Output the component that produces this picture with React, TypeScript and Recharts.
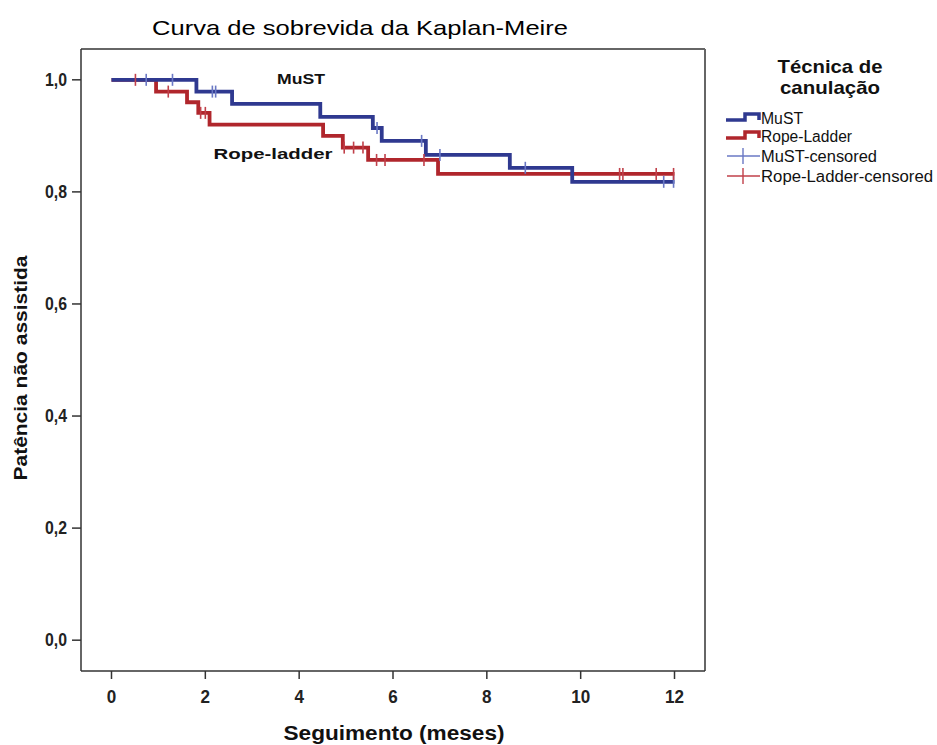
import {
  ComposedChart,
  Line,
  Scatter,
  XAxis,
  YAxis,
  ReferenceLine,
} from 'recharts';

// Kaplan-Meier steps (months, survival)
const mustSteps = [
  { t: 0, s: 1.0 },
  { t: 1.81, s: 0.979 },
  { t: 2.57, s: 0.957 },
  { t: 4.45, s: 0.934 },
  { t: 5.57, s: 0.914 },
  { t: 5.76, s: 0.891 },
  { t: 6.7, s: 0.866 },
  { t: 8.49, s: 0.843 },
  { t: 9.82, s: 0.818 },
  { t: 12.0, s: 0.818 },
];

const ropeSteps = [
  { t: 0, s: 1.0 },
  { t: 0.95, s: 0.979 },
  { t: 1.61, s: 0.96 },
  { t: 1.85, s: 0.941 },
  { t: 2.09, s: 0.92 },
  { t: 4.51, s: 0.9 },
  { t: 4.93, s: 0.879 },
  { t: 5.47, s: 0.857 },
  { t: 6.96, s: 0.832 },
  { t: 12.0, s: 0.832 },
];

const mustCensored = [
  { t: 0.74, s: 1.0 },
  { t: 1.3, s: 1.0 },
  { t: 2.15, s: 0.979 },
  { t: 2.22, s: 0.979 },
  { t: 5.66, s: 0.914 },
  { t: 6.61, s: 0.891 },
  { t: 7.0, s: 0.866 },
  { t: 8.82, s: 0.843 },
  { t: 11.77, s: 0.818 },
  { t: 11.98, s: 0.818 },
];

const ropeCensored = [
  { t: 0.51, s: 1.0 },
  { t: 1.21, s: 0.979 },
  { t: 1.9, s: 0.941 },
  { t: 2.0, s: 0.941 },
  { t: 4.96, s: 0.879 },
  { t: 5.16, s: 0.879 },
  { t: 5.36, s: 0.879 },
  { t: 5.65, s: 0.857 },
  { t: 5.83, s: 0.857 },
  { t: 6.66, s: 0.857 },
  { t: 10.83, s: 0.832 },
  { t: 10.9, s: 0.832 },
  { t: 11.61, s: 0.832 },
  { t: 11.98, s: 0.832 },
];

const xTicks = [0, 2, 4, 6, 8, 10, 12];
const yTicks = [0, 0.2, 0.4, 0.6, 0.8, 1.0];

const BLUE = '#2f3990';
const RED = '#b0262c';
const BLUE_C = '#6a78c4';
const RED_C = '#c0404a';
const FONT = 'Liberation Sans, Arial, sans-serif';

// condensed bold tick labels, squeezed with textLength
const XTick = ({ x, y, payload }: any) => {
  const label = String(payload.value);
  return (
    <text
      x={x}
      y={y + 22}
      textAnchor="middle"
      fontFamily={FONT}
      fontWeight="bold"
      fontSize={18}
      textLength={label.length * 9.5}
      lengthAdjust="spacingAndGlyphs"
      fill="#222"
    >
      {label}
    </text>
  );
};

const YTick = ({ x, y, payload }: any) => (
  <text
    x={x - 3}
    y={y + 6}
    textAnchor="end"
    fontFamily={FONT}
    fontWeight="bold"
    fontSize={18}
    textLength={22}
    lengthAdjust="spacingAndGlyphs"
    fill="#222"
  >
    {payload.value.toFixed(1).replace('.', ',')}
  </text>
);

const censorMark = (color: string) => (props: any) => (
  <line x1={props.cx} x2={props.cx} y1={props.cy - 6} y2={props.cy + 6} stroke={color} strokeWidth={1.6} />
);

function LegendBox() {
  const rows = [
    { label: 'MuST', y: 121, kind: 'step', color: BLUE, w: 42 },
    { label: 'Rope-Ladder', y: 139, kind: 'step', color: RED, w: 91 },
    { label: 'MuST-censored', y: 159, kind: 'cross', color: BLUE_C, w: 116 },
    { label: 'Rope-Ladder-censored', y: 179, kind: 'cross', color: RED_C, w: 172 },
  ];
  return (
    <g>
      <text x={830} y={73} textAnchor="middle" fontFamily={FONT} fontWeight="bold" fontSize={19} textLength={105} lengthAdjust="spacingAndGlyphs" fill="#111">
        Técnica de
      </text>
      <text x={830} y={94} textAnchor="middle" fontFamily={FONT} fontWeight="bold" fontSize={19} textLength={100} lengthAdjust="spacingAndGlyphs" fill="#111">
        canulação
      </text>
      {rows.map((r) => (
        <g key={r.label}>
          {r.kind === 'step' ? (
            <path
              d={`M726,${r.y - 1} H745 V${r.y - 7} H759 V${r.y - 1}`}
              fill="none"
              stroke={r.color}
              strokeWidth={3.5}
            />
          ) : (
            <g>
              <line x1={727} x2={760} y1={r.y - 3} y2={r.y - 3} stroke={r.color} strokeWidth={1.4} />
              <line x1={743} x2={743} y1={r.y - 11} y2={r.y + 5} stroke={r.color} strokeWidth={1.4} />
            </g>
          )}
          <text x={761} y={r.y + 3} fontFamily={FONT} fontSize={16} textLength={r.w} lengthAdjust="spacingAndGlyphs" fill="#111">
            {r.label}
          </text>
        </g>
      ))}
    </g>
  );
}

export default function App() {
  return (
    <div style={{ position: 'absolute', left: 0, top: 0, width: 937, height: 745, background: '#fff' }}>
      <ComposedChart width={937} height={745} margin={{ top: 49, right: 232, bottom: 0, left: 0 }}>
        <XAxis
          type="number"
          dataKey="t"
          domain={[-0.65, 12.65]}
          ticks={xTicks}
          allowDataOverflow
          height={74}
          tickSize={8}
          tick={<XTick />}
          stroke="#333"
          strokeWidth={1.5}
        />
        <YAxis
          type="number"
          dataKey="s"
          domain={[-0.055, 1.055]}
          ticks={yTicks}
          allowDataOverflow
          width={81}
          tickSize={9}
          tick={<YTick />}
          stroke="#333"
          strokeWidth={1.5}
        />
        <ReferenceLine y={1.055} stroke="#666" strokeWidth={2} />
        <ReferenceLine x={12.65} stroke="#666" strokeWidth={2} />
        <Line
          data={ropeSteps}
          dataKey="s"
          type="stepAfter"
          stroke={RED}
          strokeWidth={3.8}
          dot={false}
          isAnimationActive={false}
        />
        <Line
          data={mustSteps}
          dataKey="s"
          type="stepAfter"
          stroke={BLUE}
          strokeWidth={3.8}
          dot={false}
          isAnimationActive={false}
        />
        <Scatter data={mustCensored} dataKey="s" shape={censorMark(BLUE_C)} isAnimationActive={false} />
        <Scatter data={ropeCensored} dataKey="s" shape={censorMark(RED_C)} isAnimationActive={false} />
      </ComposedChart>
      <svg
        width={937}
        height={745}
        style={{ position: 'absolute', left: 0, top: 0, pointerEvents: 'none' }}
      >
        <text x={360} y={35} textAnchor="middle" fontFamily={FONT} fontSize={21} textLength={416} lengthAdjust="spacingAndGlyphs" fill="#000">
          Curva de sobrevida da Kaplan-Meire
        </text>
        <text x={301} y={84} textAnchor="middle" fontFamily={FONT} fontWeight="bold" fontSize={15} textLength={48} lengthAdjust="spacingAndGlyphs" fill="#111">
          MuST
        </text>
        <text x={273} y={159} textAnchor="middle" fontFamily={FONT} fontWeight="bold" fontSize={15} textLength={119} lengthAdjust="spacingAndGlyphs" fill="#111">
          Rope-ladder
        </text>
        <text x={394} y={740} textAnchor="middle" fontFamily={FONT} fontWeight="bold" fontSize={20} textLength={221} lengthAdjust="spacingAndGlyphs" fill="#111">
          Seguimento (meses)
        </text>
        <text
          x={0}
          y={0}
          transform="translate(27,368) rotate(-90)"
          textAnchor="middle"
          fontFamily={FONT}
          fontWeight="bold"
          fontSize={19}
          textLength={225}
          lengthAdjust="spacingAndGlyphs"
          fill="#111"
        >
          Patência não assistida
        </text>
        <LegendBox />
      </svg>
    </div>
  );
}
